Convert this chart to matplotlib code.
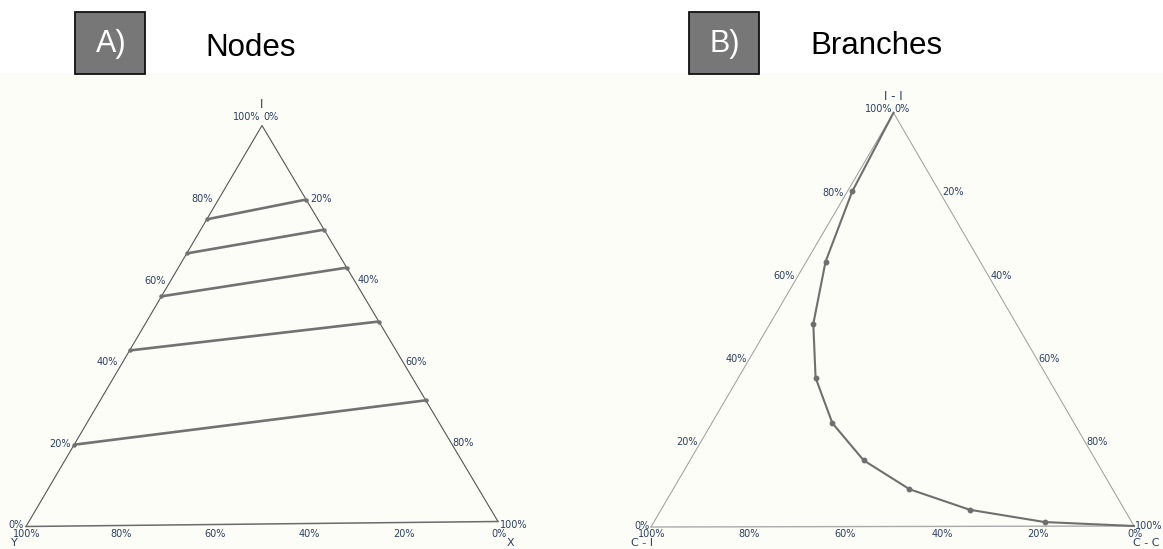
import numpy as np
import matplotlib
matplotlib.use("Agg")
import matplotlib.pyplot as plt
from matplotlib.patches import Rectangle

# nodes: tie lines between the left (X = 0) and right (Y = 0) edges, I in %
node_left_I = [76.6, 68.1, 57.4, 43.9, 20.4]
node_right_I = [81.3, 73.7, 64.1, 50.5, 30.6]

# branches: share of I-I, C-I and C-C branches (%)
branch_II = [100, 81, 64, 49, 36, 25, 16, 9, 4, 1, 0]
branch_CI = [0, 18, 32, 42, 48, 50, 48, 42, 32, 18, 0]
branch_CC = [0, 1, 4, 9, 16, 25, 36, 49, 64, 81, 100]

tick_vals = [0, 20, 40, 60, 80, 100]

TICK_COL = "#2a3f5f"
W, H = 1163, 549

fig = plt.figure(figsize=(W / 100, H / 100), dpi=100)
ax = fig.add_axes([0, 0, 1, 1])
ax.set_xlim(0, W)
ax.set_ylim(H, 0)
ax.axis("off")

# paper background below the headers
ax.add_patch(Rectangle((0, 73), W, H - 73, facecolor="#fdfdf8", edgecolor="none", zorder=0))


def tern(verts, a, b, c):
    a, b, c = np.asarray(a, float), np.asarray(b, float), np.asarray(c, float)
    s = a + b + c
    A, B, C = verts
    x = (a * A[0] + b * B[0] + c * C[0]) / s
    y = (a * A[1] + b * B[1] + c * C[1]) / s
    return x, y


def frame(verts, col, lw, base_col=None, base_lw=None):
    A, B, C = verts
    ax.plot([B[0], A[0], C[0]], [B[1], A[1], C[1]], color=col, lw=lw, zorder=2)
    ax.plot([B[0], C[0]], [B[1], C[1]], color=base_col or col, lw=base_lw or lw, zorder=2)


def tick_labels(verts, left_off, right_off, bot_dx, bot_y):
    for v in tick_vals:
        f = v / 100
        # a axis on the left edge
        x, y = tern(verts, f, 1 - f, 0)
        dx, dy = left_off(f)
        ax.text(x + dx, y + dy, f"{v}%", ha="right", va="center", fontsize=7,
                color=TICK_COL, zorder=4)
        # c axis on the right edge
        x, y = tern(verts, 1 - f, 0, f)
        dx, dy = right_off(f)
        ax.text(x + dx, y + dy, f"{v}%", ha="left", va="center", fontsize=7,
                color=TICK_COL, zorder=4)
        # b axis along the bottom
        x, y = tern(verts, 0, f, 1 - f)
        ax.text(x + bot_dx, bot_y, f"{v}%", ha="center", va="center", fontsize=7,
                color=TICK_COL, zorder=4)


def header(x0, letter, title, tx, base):
    ax.add_patch(Rectangle((x0, 12), 70, 62, facecolor="#777777", edgecolor="#111111",
                           lw=1.3, zorder=3))
    ax.text(x0 + 36, 44, letter, ha="center", va="center", fontsize=22,
            family="Liberation Sans", color="white", zorder=4)
    ax.text(tx, base, title, ha="left", va="baseline", fontsize=22.5,
            family="Liberation Sans", color="black", zorder=4)


# ---- A) Nodes ----
vA = [(262, 125.5), (26, 526.5), (498, 521.5)]
frame(vA, "#555555", 0.8, base_col="#6a6a6a", base_lw=1.1)
tick_labels(vA, lambda f: (-2, -1 - 7 * f), lambda f: (1.5, -8.5 + 12 * f), 0.5, 534)
ax.text(262, 104, "I", ha="center", va="center", fontsize=8.5, color=TICK_COL)
ax.text(14, 543.5, "Y", ha="center", va="center", fontsize=8, color=TICK_COL)
ax.text(510, 543.5, "X", ha="center", va="center", fontsize=8, color=TICK_COL)

for li, ri in zip(node_left_I, node_right_I):
    x, y = tern(vA, [li, ri], [100 - li, 0], [0, 100 - ri])
    ax.plot(x, y, color="#727272", lw=1.9, marker="o", ms=2.2, zorder=3,
            solid_capstyle="butt")

header(75, "A)", "Nodes", 205, 56)

# ---- B) Branches ----
vB = [(893.5, 112.7), (651, 527), (1134, 526)]
frame(vB, "#9a9a9a", 0.7, base_col="#aaaaaa", base_lw=1.0)
tick_labels(vB, lambda f: (-1.5, -1.3 - 2.2 * f), lambda f: (0.5, -3.8 + 3.5 * f), 1, 534)
ax.text(893.7, 96, "I - I", ha="center", va="center", fontsize=8.5, color=TICK_COL)
ax.text(642, 543.5, "C - I", ha="center", va="center", fontsize=8, color=TICK_COL)
ax.text(1146, 543.5, "C - C", ha="center", va="center", fontsize=8, color=TICK_COL)

x, y = tern(vB, branch_II, branch_CI, branch_CC)
ax.plot(x, y, color="#6f6f6f", lw=1.5, marker="o", ms=3.2, markevery=slice(1, -1),
        zorder=3)

header(689, "B)", "Branches", 810, 54.5)

fig.savefig("out.png", dpi=100, facecolor="white")
